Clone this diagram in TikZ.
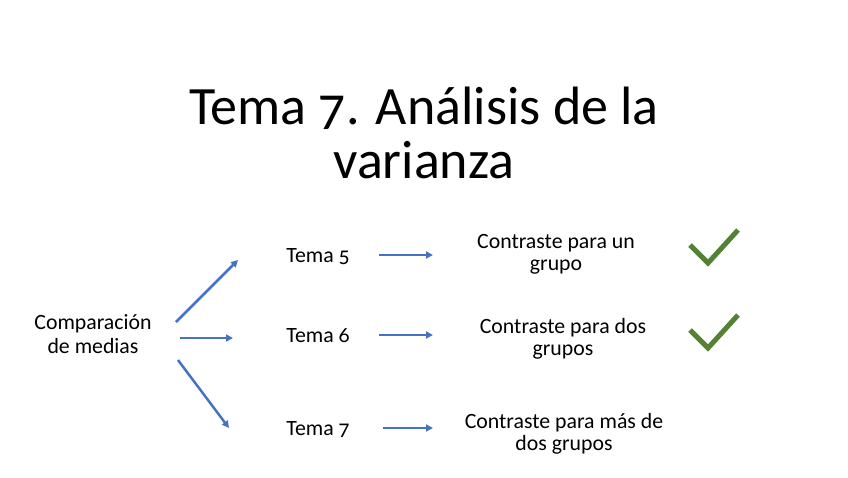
\documentclass[tikz,border=0pt]{standalone}
\usepackage{fontspec}
\setmainfont{Carlito}[Numbers=OldStyle]
\usetikzlibrary{arrows.meta}
\definecolor{arrowblue}{HTML}{4472C4}
\definecolor{checkgreen}{HTML}{548235}
\tikzset{
  lbl/.style={font=\fontsize{21.8}{24}\selectfont, anchor=base, inner sep=0pt},
  ttl/.style={font=\fontsize{54}{54}\selectfont, anchor=base, inner sep=0pt},
  blue arrow/.style={draw=arrowblue, line width=2.5pt, -{Triangle[length=7pt,width=7pt]}},
  tick/.style={draw=checkgreen, line width=5pt}
}
\begin{document}
\begin{tikzpicture}[x=1pt,y=-1pt]
\useasboundingbox (0,0) rectangle (848,477);
\node[ttl] (title1) at (424,124) {Tema 7. Análisis de la};
\node[ttl] (title2) at (424,178) {varianza};
\node[lbl] (comp1) at (93,329) {Comparación};
\node[lbl] (comp2) at (93,353) {de medias};
\node[lbl] (t5) at (318,262) {Tema 5};
\node[lbl] (t6) at (318,342) {Tema 6};
\node[lbl] (t7) at (318,435) {Tema 7};
\node[lbl] (c1a) at (556,248) {Contraste para un};
\node[lbl] (c1b) at (556,270) {grupo};
\node[lbl] (c2a) at (563,333) {Contraste para dos};
\node[lbl] (c2b) at (563,355) {grupos};
\node[lbl] (c3a) at (564,428) {Contraste para más de};
\node[lbl] (c3b) at (564,450) {dos grupos};
% arrow end points
\coordinate (a1s) at (176,322); \coordinate (a1e) at (238,260);
\coordinate (a2s) at (180,338); \coordinate (a2e) at (233,338);
\coordinate (a3s) at (178,360); \coordinate (a3e) at (229,428);
\coordinate (b1s) at (379,255); \coordinate (b1e) at (433,255);
\coordinate (b2s) at (379,335); \coordinate (b2e) at (433,335);
\coordinate (b3s) at (383,428); \coordinate (b3e) at (433,428);
\draw[blue arrow] (a1s) -- (a1e);
\draw[blue arrow] (a2s) -- (a2e);
\draw[blue arrow] (a3s) -- (a3e);
\draw[blue arrow] (b1s) -- (b1e);
\draw[blue arrow] (b2s) -- (b2e);
\draw[blue arrow] (b3s) -- (b3e);
% check marks
\coordinate (k1a) at (690,245); \coordinate (k1b) at (708,263); \coordinate (k1c) at (738,230);
\coordinate (k2a) at (690,330); \coordinate (k2b) at (708,348); \coordinate (k2c) at (738,315);
\draw[tick] (k1a) -- (k1b) -- (k1c);
\draw[tick] (k2a) -- (k2b) -- (k2c);
\end{tikzpicture}
\end{document}
